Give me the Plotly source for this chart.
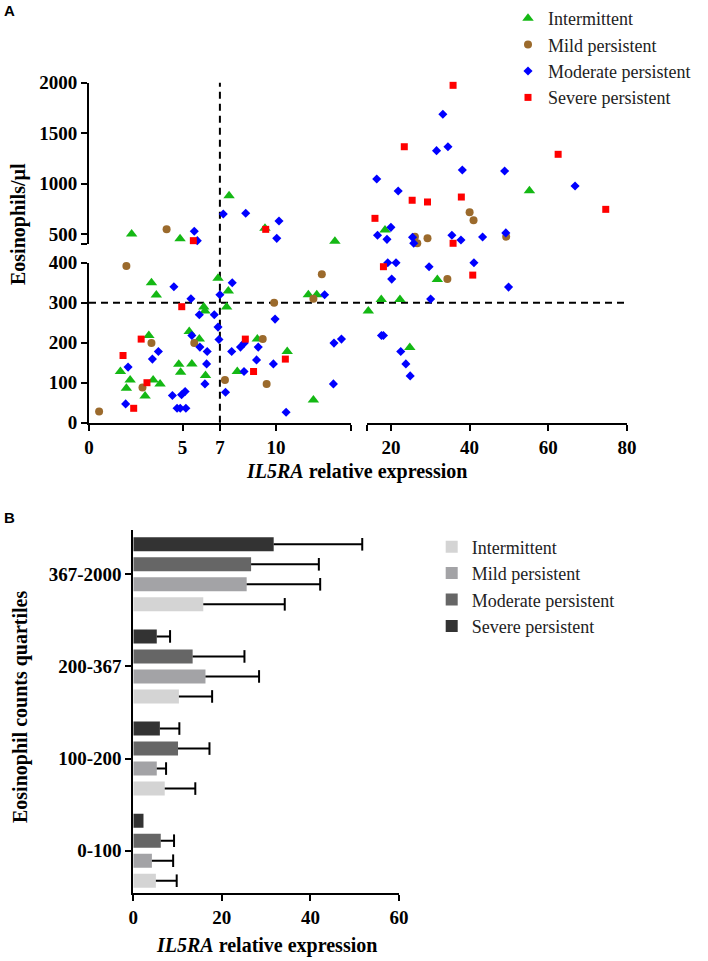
import numpy as np
import plotly.graph_objects as go

# ---------------- Panel A data (IL5RA relative expression vs eosinophils/µl) ----------------
int_x = [3.34, 3.6, 6.9, 7.45, 7.36, 6.14, 6.2, 5.36, 5.9, 3.2, 1.68, 2.2, 2.0, 3.43, 3.8, 3.0,
         4.8, 4.9, 5.5, 6.23, 7.93, 9.0, 10.6, 11.73, 12.18, 12.0, 14.26, 17.55, 22.3, 31.8,
         24.8, 18.5, 55.2, 7.49, 2.28, 4.87, 9.41, 13.15]
int_y = [350, 319, 361, 329, 289, 289, 279, 228, 209, 218, 128, 107, 86, 107, 97, 67,
         146, 126, 147, 118, 128, 209, 178, 320, 320, 57, 279, 308, 308, 358,
         188, 541, 931, 881, 502, 455, 558, 430]

mild_x = [0.54, 2.0, 3.34, 2.86, 5.63, 7.27, 9.29, 9.5, 9.9, 12.0, 12.45, 4.15, 26.1, 26.7,
          29.3, 49.3, 34.35, 40.0, 41.0]
mild_y = [28, 392, 199, 88, 199, 107, 209, 97, 300, 310, 371, 548, 475, 410,
          459, 475, 359, 717, 638]

mod_x = [1.96, 2.09, 3.39, 3.71, 4.54, 4.46, 4.95, 5.14, 4.71, 4.88, 5.18, 5.45, 5.5, 5.9, 5.93,
         6.32, 6.29, 6.2, 6.7, 6.9, 6.95, 7.0, 7.3, 7.66, 7.63, 8.1, 8.3, 8.29, 8.96, 9.05, 9.86,
         9.95, 10.54, 12.6, 13.1, 13.5, 13.07,
         17.6, 18.1, 22.5, 23.8, 24.9, 30.1, 49.9, 20.2, 19.2, 21.3, 29.7, 41.1,
         5.63, 5.79, 7.18, 8.38, 10.16, 10.04,
         33.2, 31.6, 34.5, 16.4, 38.15, 48.9, 66.8, 21.85, 20.0, 16.6, 19.0, 35.5, 37.8, 43.3,
         49.2, 25.5, 25.8]
mod_y = [47, 139, 159, 178, 340, 68, 70, 78, 36, 36, 36, 310, 218, 270, 189,
         178, 147, 97, 270, 239, 208, 320, 76, 350, 178, 189, 199, 128, 157, 189, 147,
         259, 26, 320, 199, 209, 97,
         218, 218, 178, 147, 117, 309, 339, 359, 400, 400, 390, 400,
         529, 436, 700, 707, 631, 459,
         1687, 1327, 1366, 1046, 1136, 1126, 977, 928, 568, 489, 449, 489, 442, 472,
         513, 469, 410]

sev_x = [1.82, 2.79, 3.1, 2.39, 4.96, 8.36, 8.8, 10.5, 5.58, 9.45, 18.1, 40.8, 35.8, 35.8,
         23.4, 62.5, 25.4, 29.3, 37.9, 15.95, 74.6]
sev_y = [168, 209, 100, 36, 290, 209, 128, 159, 436, 548, 390, 369, 410, 1974,
         1366, 1291, 836, 819, 868, 657, 746]

severity = ["Intermittent", "Mild persistent", "Moderate persistent", "Severe persistent"]

# ---------------- Panel B data ----------------
quartiles = ["0-100", "100-200", "200-367", "367-2000"]
bar_int = [5.1, 7.1, 10.3, 15.8]
bar_mild = [4.2, 5.3, 16.3, 25.6]
bar_mod = [6.2, 10.1, 13.4, 26.6]
bar_sev = [2.3, 6.0, 5.3, 31.7]
err_int = [4.7, 6.9, 7.5, 18.4]
err_mild = [4.8, 2.1, 12.1, 16.6]
err_mod = [3.0, 7.1, 11.7, 15.3]
err_sev = [None, 4.4, 3.0, 20.0]

# ---------------- layout geometry (pixels) ----------------
W, H = 708, 961
def px(v):
    return v / W
def py(v):
    return 1 - v / H

X_BREAK = 14
Y_BREAK = 400

serif = "Liberation Serif"
fig = go.Figure()

styles = [
    ("triangle-up", "#14b814", 10),
    ("circle", "#9b6a2c", 8),
    ("diamond", "#0000ff", 7),
    ("square", "#ff0000", 7),
]
series = [(int_x, int_y), (mild_x, mild_y), (mod_x, mod_y), (sev_x, sev_y)]

for name, (xs, ys), (sym, col, sz) in zip(severity, series, styles):
    xs = np.array(xs, dtype=float)
    ys = np.array(ys, dtype=float)
    cells = [
        ("x", "y", (xs < X_BREAK) & (ys <= Y_BREAK)),
        ("x2", "y", (xs >= X_BREAK) & (ys <= Y_BREAK)),
        ("x", "y2", (xs < X_BREAK) & (ys > Y_BREAK)),
        ("x2", "y2", (xs >= X_BREAK) & (ys > Y_BREAK)),
    ]
    first = True
    for xa, ya, m in cells:
        if not m.any():
            continue
        fig.add_trace(go.Scatter(
            x=xs[m], y=ys[m], mode="markers", name=name,
            xaxis=xa, yaxis=ya, legend="legend",
            marker=dict(symbol=sym, color=col, size=sz, line=dict(width=0)),
            showlegend=first, cliponaxis=False,
        ))
        first = False

# grouped horizontal bars: 4 slots per quartile
SLOT = 0.2172
BAR_W = 0.152
bar_vals = [bar_int, bar_mild, bar_mod, bar_sev]
bar_errs = [err_int, err_mild, err_mod, err_sev]
bar_cols = ["#d4d4d4", "#a3a3a6", "#666666", "#333333"]
for k, (name, v, e, c) in enumerate(zip(severity, bar_vals, bar_errs, bar_cols)):
    pos = [i + (k - 1.5) * SLOT for i in range(len(quartiles))]
    fig.add_trace(go.Bar(
        x=v, y=pos, orientation="h", name=name, width=BAR_W,
        xaxis="x3", yaxis="y3", legend="legend2",
        marker=dict(color=c, line=dict(width=0)),
        error_x=dict(type="data", array=[0 if ee is None else ee for ee in e],
                     arrayminus=[0] * len(e), symmetric=False,
                     color="black", thickness=2, width=0),
    ))
    hats = [(vv + ee, p) for vv, ee, p in zip(v, e, pos) if ee is not None]
    fig.add_trace(go.Scatter(
        x=[h[0] for h in hats], y=[h[1] for h in hats], mode="markers",
        xaxis="x3", yaxis="y3", showlegend=False, hoverinfo="skip", cliponaxis=False,
        marker=dict(symbol="line-ns-open", size=9, color="black", line=dict(width=2, color="black")),
    ))

tickfont = dict(family=serif, size=19, color="black", weight="bold")
base_ax = dict(showline=True, linecolor="black", linewidth=2, ticks="outside", ticklen=6,
               tickwidth=2, tickcolor="black", showgrid=False, zeroline=False,
               tickfont=tickfont, fixedrange=True)

fig.update_layout(
    width=W, height=H, autosize=False,
    margin=dict(l=0, r=0, t=0, b=0, autoexpand=False),
    paper_bgcolor="white", plot_bgcolor="rgba(0,0,0,0)",
    barmode="overlay",
    xaxis=dict(base_ax, domain=[px(89), px(350.8)], range=[0, X_BREAK], anchor="y",
               tickmode="array", tickvals=[0, 5, 7, 10, 14], ticktext=["0", "5", "7", "10", ""]),
    xaxis2=dict(base_ax, domain=[px(367.3), px(627)], range=[X_BREAK, 80], anchor="y",
                tickmode="array", tickvals=[14, 20, 40, 60, 80], ticktext=["", "20", "40", "60", "80"]),
    yaxis=dict(base_ax, domain=[py(422.7), py(262.7)], range=[0, Y_BREAK], anchor="x",
               tickmode="array", tickvals=[0, 100, 200, 300, 400]),
    yaxis2=dict(base_ax, domain=[py(244.3), py(82.7)], range=[Y_BREAK, 2000], anchor="x",
                tickmode="array", tickvals=[400, 500, 1000, 1500, 2000],
                ticktext=["", "500", "1000", "1500", "2000"]),
    xaxis3=dict(base_ax, domain=[px(133.3), px(399)], range=[0, 60], anchor="y3",
                tickmode="array", tickvals=[0, 20, 40, 60]),
    yaxis3=dict(base_ax, domain=[py(892.7), py(530)], range=[-0.456, 3.481], anchor="x3",
                tickmode="array", tickvals=list(range(len(quartiles))), ticktext=quartiles),
    legend=dict(x=px(508), y=1.0, xanchor="left", yanchor="top",
                font=dict(family=serif, size=18, color="#222"), bgcolor="rgba(0,0,0,0)",
                tracegroupgap=0, traceorder="normal"),
    legend2=dict(x=px(431.7), y=py(528.5), xanchor="left", yanchor="top",
                 font=dict(family=serif, size=18, color="#222"), bgcolor="rgba(0,0,0,0)",
                 tracegroupgap=0, traceorder="normal"),
    shapes=[
        dict(type="line", xref="paper", yref="y", x0=px(89), x1=px(627), y0=300, y1=300,
             line=dict(color="black", width=2, dash="7px,5px"), layer="below"),
        dict(type="line", xref="x", yref="paper", x0=7, x1=7, y0=py(422.7), y1=py(82.7),
             line=dict(color="black", width=2, dash="7px,5px"), layer="below"),
    ],
    annotations=[
        dict(text="<b>A</b>", x=px(2), y=py(0), xref="paper", yref="paper",
             xanchor="left", yanchor="top", showarrow=False,
             font=dict(family="Liberation Sans", size=15, color="black")),
        dict(text="<b>B</b>", x=px(2), y=py(507), xref="paper", yref="paper",
             xanchor="left", yanchor="top", showarrow=False,
             font=dict(family="Liberation Sans", size=15, color="black")),
        dict(text="<b>Eosinophils/µl</b>", x=px(18), y=py(224), xref="paper", yref="paper",
             xanchor="center", yanchor="middle", textangle=-90, showarrow=False,
             font=dict(family=serif, size=20, color="black")),
        dict(text="<b><i>IL5RA</i> relative expression</b>", x=px(356), y=py(471),
             xref="paper", yref="paper", xanchor="center", yanchor="middle", showarrow=False,
             font=dict(family=serif, size=20, color="black")),
        dict(text="<b>Eosinophil counts quartiles</b>", x=px(20), y=py(707), xref="paper",
             yref="paper", xanchor="center", yanchor="middle", textangle=-90, showarrow=False,
             font=dict(family=serif, size=20, color="black")),
        dict(text="<b><i>IL5RA</i> relative expression</b>", x=px(266), y=py(945),
             xref="paper", yref="paper", xanchor="center", yanchor="middle", showarrow=False,
             font=dict(family=serif, size=20, color="black")),
    ],
)

fig.write_html("out.html", config={"displayModeBar": False},
               post_script="document.body.style.margin='0px';document.body.style.padding='0px';")
